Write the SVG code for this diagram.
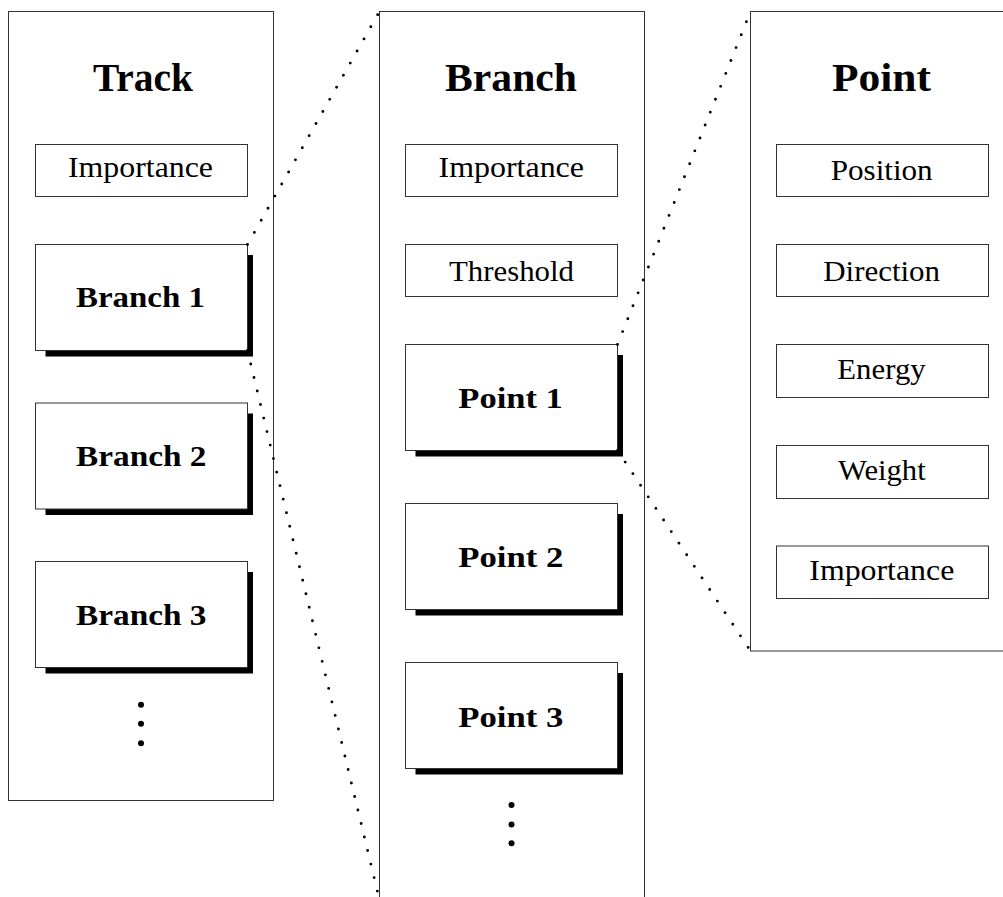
<svg xmlns="http://www.w3.org/2000/svg" width="1003" height="897" viewBox="0 0 1003 897">
<style>
.panel{fill:#fff;stroke:#333;stroke-width:1}
.box{fill:#fff;stroke:#333;stroke-width:1}
.shadow{fill:#000;stroke:none}
.title{font-family:"Liberation Serif",serif;font-weight:bold;font-size:39px;fill:#000}
.bold{font-family:"Liberation Serif",serif;font-weight:bold;font-size:30px;fill:#000}
.reg{font-family:"Liberation Serif",serif;font-size:30px;fill:#000}
.dots{fill:none;stroke:#000;stroke-width:2.9;stroke-linecap:round;stroke-dasharray:0 13.9}
.vdot{fill:#000}
</style>
<rect width="1003" height="897" fill="#fff"/>

<g id="track">
  <rect class="panel" x="8.5" y="11.5" width="265" height="789"/>
  <text class="title" x="93" y="91" textLength="100" lengthAdjust="spacingAndGlyphs">Track</text>
  <g id="track-importance">
    <rect class="box" x="35.5" y="144.5" width="212" height="52"/>
    <text class="reg" x="68" y="177" textLength="145" lengthAdjust="spacingAndGlyphs">Importance</text>
  </g>
  <g id="branch1">
    <rect class="shadow" x="45.5" y="255" width="207.5" height="101.5"/>
    <rect class="box" x="35.5" y="244.5" width="212" height="106"/>
    <text class="bold" x="76" y="307" textLength="129" lengthAdjust="spacingAndGlyphs">Branch 1</text>
  </g>
  <g id="branch2">
    <rect class="shadow" x="45.5" y="413.5" width="207.5" height="101.5"/>
    <rect class="box" x="35.5" y="403" width="212" height="106"/>
    <text class="bold" x="76" y="466" textLength="130.5" lengthAdjust="spacingAndGlyphs">Branch 2</text>
  </g>
  <g id="branch3">
    <rect class="shadow" x="45.5" y="572" width="207.5" height="101.5"/>
    <rect class="box" x="35.5" y="561.5" width="212" height="106"/>
    <text class="bold" x="76" y="625" textLength="130.5" lengthAdjust="spacingAndGlyphs">Branch 3</text>
  </g>
  <g id="track-more">
    <circle class="vdot" cx="141" cy="704.7" r="3"/>
    <circle class="vdot" cx="141" cy="723.8" r="3"/>
    <circle class="vdot" cx="141" cy="743.2" r="3"/>
  </g>
</g>

<g id="branch">
  <rect class="panel" x="379.5" y="11.5" width="265" height="910"/>
  <text class="title" x="445" y="91" textLength="132" lengthAdjust="spacingAndGlyphs">Branch</text>
  <g id="branch-importance">
    <rect class="box" x="405.5" y="144.5" width="212" height="52"/>
    <text class="reg" x="438.5" y="177" textLength="145.5" lengthAdjust="spacingAndGlyphs">Importance</text>
  </g>
  <g id="branch-threshold">
    <rect class="box" x="405.5" y="244.5" width="212" height="52"/>
    <text class="reg" x="449" y="281" textLength="125" lengthAdjust="spacingAndGlyphs">Threshold</text>
  </g>
  <g id="point1">
    <rect class="shadow" x="415.5" y="355" width="207.5" height="101.5"/>
    <rect class="box" x="405.5" y="344.5" width="212" height="106"/>
    <text class="bold" x="458.3" y="408" textLength="104.5" lengthAdjust="spacingAndGlyphs">Point 1</text>
  </g>
  <g id="point2">
    <rect class="shadow" x="415.5" y="514" width="207.5" height="101.5"/>
    <rect class="box" x="405.5" y="503.5" width="212" height="106"/>
    <text class="bold" x="458.3" y="567" textLength="105" lengthAdjust="spacingAndGlyphs">Point 2</text>
  </g>
  <g id="point3">
    <rect class="shadow" x="415.5" y="673" width="207.5" height="101.5"/>
    <rect class="box" x="405.5" y="662.5" width="212" height="106"/>
    <text class="bold" x="458.3" y="726.5" textLength="105" lengthAdjust="spacingAndGlyphs">Point 3</text>
  </g>
  <g id="branch-more">
    <circle class="vdot" cx="511.5" cy="805" r="3"/>
    <circle class="vdot" cx="511.5" cy="824.5" r="3"/>
    <circle class="vdot" cx="511.5" cy="843.3" r="3"/>
  </g>
</g>

<g id="point">
  <rect class="panel" x="750.5" y="11.5" width="263" height="639.5"/>
  <text class="title" x="832" y="91" textLength="99" lengthAdjust="spacingAndGlyphs">Point</text>
  <g id="point-position">
    <rect class="box" x="776.5" y="144.5" width="212" height="52"/>
    <text class="reg" x="830.7" y="180" textLength="102" lengthAdjust="spacingAndGlyphs">Position</text>
  </g>
  <g id="point-direction">
    <rect class="box" x="776.5" y="244.5" width="212" height="52"/>
    <text class="reg" x="823.3" y="281" textLength="116.7" lengthAdjust="spacingAndGlyphs">Direction</text>
  </g>
  <g id="point-energy">
    <rect class="box" x="776.5" y="344.5" width="212" height="53"/>
    <text class="reg" x="837.3" y="379" textLength="88.4" lengthAdjust="spacingAndGlyphs">Energy</text>
  </g>
  <g id="point-weight">
    <rect class="box" x="776.5" y="445.5" width="212" height="53"/>
    <text class="reg" x="838" y="479.5" textLength="87.7" lengthAdjust="spacingAndGlyphs">Weight</text>
  </g>
  <g id="point-importance">
    <rect class="box" x="776.5" y="546" width="212" height="52.5"/>
    <text class="reg" x="809.3" y="579.5" textLength="145" lengthAdjust="spacingAndGlyphs">Importance</text>
  </g>
</g>

<g id="connectors">
  <line class="dots" x1="247.5" y1="244.5" x2="379.5" y2="11.5"/>
  <line class="dots" x1="247.5" y1="350.5" x2="379.5" y2="900"/>
  <line class="dots" x1="617.5" y1="344.5" x2="750.5" y2="11.5"/>
  <line class="dots" x1="617.5" y1="450.5" x2="750.5" y2="651"/>
</g>
</svg>
